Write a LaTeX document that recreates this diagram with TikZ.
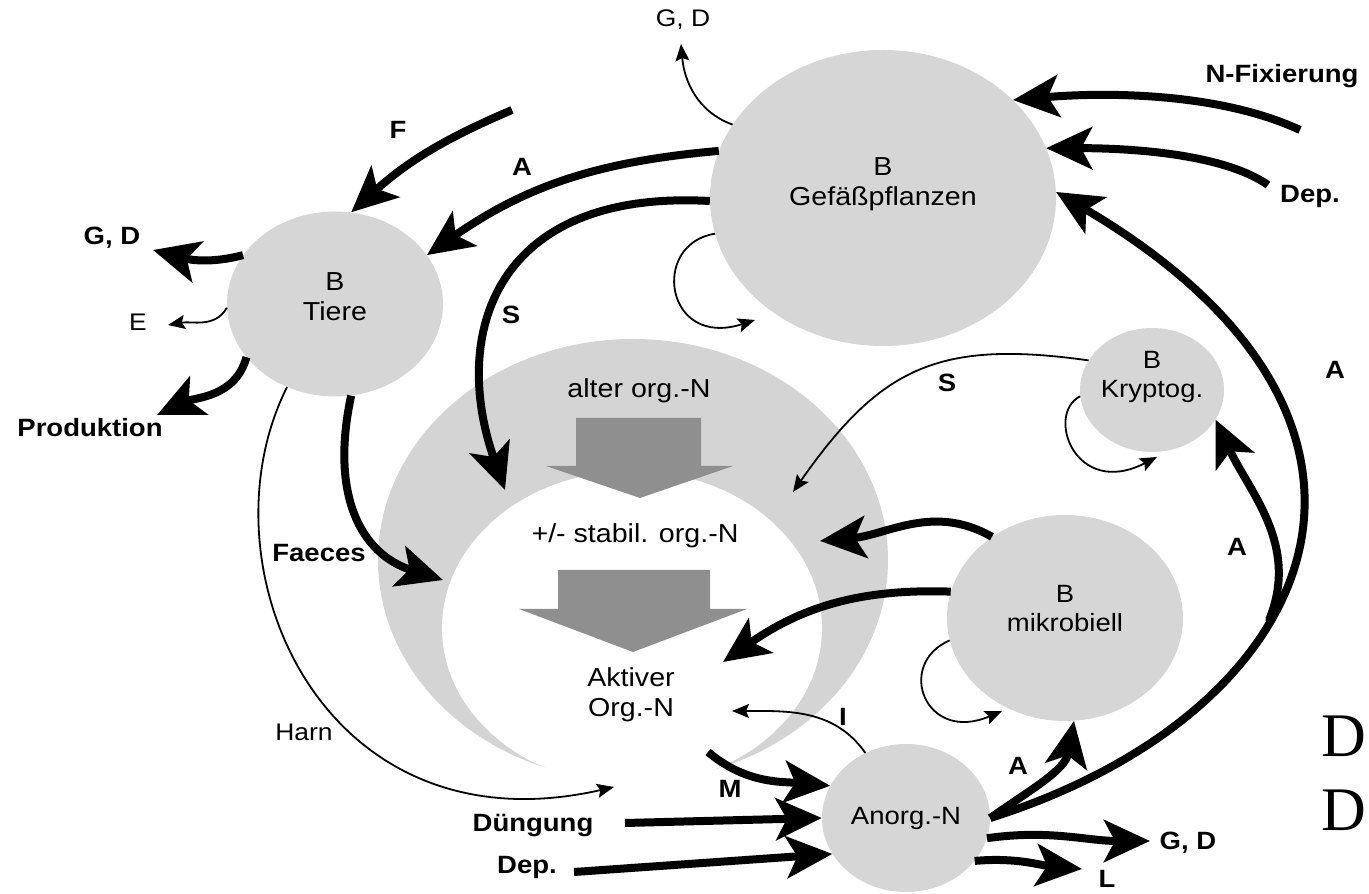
\documentclass[tikz,border=0pt]{standalone}
\usepackage{fontspec}
\setmainfont{Liberation Sans}[FakeStretch=1.1]
\newfontfamily\serifD{Liberation Serif}
\usetikzlibrary{arrows.meta,shapes.geometric}
\definecolor{blobgray}{gray}{0.84}
\definecolor{poolgray}{gray}{0.83}
\definecolor{blockgray}{gray}{0.56}

\begin{document}
\begin{tikzpicture}[x=1pt, y=1pt,
    blob/.style={ellipse, fill=blobgray, inner sep=0pt},
    txt/.style={font=\fontsize{26}{30}\selectfont, align=center},
    smalltxt/.style={font=\fontsize{25}{29}\selectfont, align=center},
    lbl/.style={font=\fontsize{25}{29}\selectfont\bfseries},
    plainlbl/.style={font=\fontsize{24}{28}\selectfont},
    flow/.style={line width=8pt, -{Stealth[length=46pt, width=42pt, inset=11pt]}},
    thinflow/.style={line width=1.8pt, -{Stealth[length=17pt, width=14pt, inset=3pt]}}]

    \fill[white] (0,0) rectangle (1369,894);
    \useasboundingbox (0,0) rectangle (1369,894);

    % Boden-N pool
    \node[ellipse, fill=poolgray, minimum width=510pt, minimum height=442pt] (altpool) at (633,334) {};
    \node[ellipse, fill=white, minimum width=380pt, minimum height=314pt] (aktivpool) at (632,266) {};
    \fill[blockgray] (576,476) -- (701,476) -- (701,428) -- (733,428) -- (640,396) -- (546,428) -- (576,428) -- cycle;
    \fill[blockgray] (558,324) -- (710,324) -- (710,285) -- (747,285) -- (633,242) -- (519,285) -- (558,285) -- cycle;
    \node[txt] (alter) at (639,503) {alter org.-N};
    \node[txt] (stabil) at (635,358) {+/- stabil. org.-N};
    \node[txt] (aktiv) at (631,199) {Aktiver\\Org.-N};

    % Kompartimente
    \node[blob, minimum width=346pt, minimum height=296pt, label={[txt, yshift=14pt]center:B\\Gefäßpflanzen}] (pflanzen) at (883,696) {};
    \node[blob, minimum width=216pt, minimum height=185pt, label={[txt, yshift=7pt]center:B\\Tiere}] (tiere) at (335,590) {};
    \node[blob, minimum width=144pt, minimum height=124pt, label={[smalltxt, yshift=13pt]center:B\\Kryptog.}] (krypto) at (1152,504) {};
    \node[blob, minimum width=236pt, minimum height=206pt, label={[smalltxt, yshift=9pt]center:B\\mikrobiell}] (mikro) at (1065,276) {};
    \node[blob, smalltxt, minimum width=168pt, minimum height=148pt] (anorg) at (906,76) {Anorg.-N};

    % freie Enden
    \coordinate (fstart) at (512,784);
    \coordinate (spool) at (505,404);
    \coordinate (ploop) at (755,574);
    \coordinate (gdtop) at (681,850);
    \coordinate (nfix) at (1300,764);
    \coordinate (deptop) at (1268,709);
    \coordinate (gdbot) at (1150,53);
    \coordinate (lend) at (1082,25);
    \coordinate (mstart) at (708,142);
    \coordinate (dstart) at (625,71);
    \coordinate (depstart) at (574,22);
    \coordinate (iend) at (732,183);
    \coordinate (stabilend) at (820,353);
    \coordinate (aktivend) at (723,232);
    \coordinate (mloop) at (1002,183);
    \coordinate (kryptoend) at (793,402);
    \coordinate (kloop) at (1157,437);
    \coordinate (gdtiere) at (153,644);
    \coordinate (eend) at (168,569);
    \coordinate (prodend) at (157,479);
    \coordinate (faecesend) at (443,314);
    \coordinate (harnend) at (614,107);

    % Fluesse Pflanzen
    \draw[flow] (fstart) to[out=203,in=42] (tiere.80);
    \draw[flow] (pflanzen.164) to[out=185,in=35] (tiere.28);
    \draw[flow] (pflanzen.181) .. controls (495,705) and (450,560) .. (spool);
    \draw[thinflow] (pflanzen.192) .. controls (650,650) and (665,545) .. (ploop);
    \draw[thinflow] (pflanzen.154) to[out=160,in=-85] (gdtop);
    \draw[flow] (nfix) to[out=155,in=5, looseness=0.8] (pflanzen.37);
    \draw[flow] (deptop) to[out=145,in=0, looseness=0.7] (pflanzen.17);

    % Aufnahme aus Anorg.-N
    \draw[flow] (anorg.east) .. controls (1320,180) and (1450,470) .. coordinate[pos=0.40] (asplit) (pflanzen.2);
    \draw[flow, line cap=round] (asplit) to[out=68,in=-65] (krypto.-25);
    \draw[flow] (anorg.east) to[out=35,in=-100] (mikro.-85);
    \draw[flow] (anorg.-14) to[out=8,in=180] (gdbot);
    \draw[flow] (anorg.-32) to[out=5,in=175] (lend);

    % Eintraege Anorg.-N
    \draw[flow] (mstart) to[out=-40,in=175] (anorg.157);
    \draw[flow] (dstart) -- (anorg.west);
    \draw[flow] (depstart) -- (anorg.206);
    \draw[thinflow] (anorg.122) to[out=125,in=0] (iend);

    % Mikroben und Kryptogamen
    \draw[flow] (mikro.132) to[out=150,in=5] (stabilend);
    \draw[flow] (mikro.167) to[out=178,in=35] (aktivend);
    \draw[thinflow] (mikro.191) .. controls (895,230) and (925,150) .. (mloop);
    \draw[thinflow] (krypto.155) to[out=172,in=55, looseness=1.2] (kryptoend);
    \draw[thinflow] (krypto.185) .. controls (1045,480) and (1075,395) .. (kloop);

    % Tiere
    \draw[flow] (tiere.152) to[out=195,in=-15] (gdtiere);
    \draw[thinflow] (tiere.182) to[out=240,in=10] (eend);
    \draw[flow] (tiere.211) to[out=255,in=25] (prodend);
    \draw[flow] (tiere.-80) .. controls (330,400) and (360,340) .. (faecesend);
    \draw[thinflow] (tiere.240) .. controls (198,330) and (320,40) .. (harnend);

    % Beschriftung
    \node[lbl] (lblF) at (398,764) {F};
    \node[lbl] (lblAt) at (522,727) {A};
    \node[lbl] (lblSp) at (511,579) {S};
    \node[plainlbl] (lblGDp) at (683,874) {G, D};
    \node[lbl] (lblNfix) at (1282,818) {N-Fixierung};
    \node[lbl] (lblDept) at (1310,697) {Dep.};
    \node[lbl] (lblAp) at (1335,524) {A};
    \node[lbl] (lblAk) at (1237,347) {A};
    \node[lbl] (lblSk) at (947,511) {S};
    \node[lbl] (lblAm) at (1018,128) {A};
    \node[lbl] (lblI) at (843,177) {I};
    \node[lbl] (lblM) at (730,105) {M};
    \node[lbl] (lblGDb) at (1188,51) {G, D};
    \node[lbl] (lblL) at (1107,15) {L};
    \node[lbl] (lblDung) at (533,69) {Düngung};
    \node[lbl] (lblDepb) at (527,27) {Dep.};
    \node[lbl] (lblGDt) at (112,656) {G, D};
    \node[plainlbl] (lblE) at (138,572) {E};
    \node[lbl] (lblProd) at (90,466) {Produktion};
    \node[lbl] (lblFaeces) at (319,341) {Faeces};
    \node[plainlbl] (lblHarn) at (304,162) {Harn};

    % Randbuchstaben
    \node[font=\serifD\fontsize{62}{62}\selectfont] (dtop) at (1344,158) {D};
    \node[font=\serifD\fontsize{62}{62}\selectfont] (dbot) at (1344,84) {D};
\end{tikzpicture}
\end{document}
